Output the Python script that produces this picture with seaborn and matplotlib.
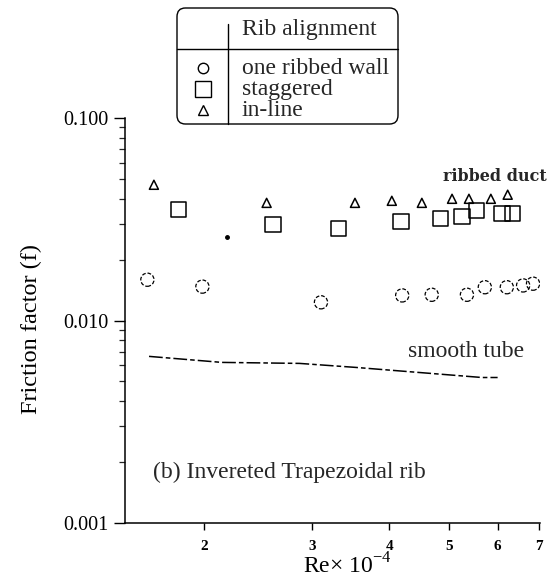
import matplotlib
matplotlib.use("Agg")
import matplotlib.pyplot as plt
import numpy as np
import pandas as pd
import seaborn as sns
from matplotlib.patches import FancyBboxPatch
from matplotlib.lines import Line2D
from matplotlib.ticker import FixedLocator, LogLocator, NullFormatter, FixedFormatter

# Reynolds number (x 10^-4) and friction factor for each rib arrangement
re_wall = [1.62, 1.99, 3.10, 4.20, 4.69, 5.35, 5.72, 6.21, 6.60, 6.85]
f_wall = [0.0159, 0.0147, 0.0123, 0.0133, 0.0134, 0.0134, 0.0146, 0.0146, 0.0149, 0.0152]

re_stag = [1.82, 2.59, 3.31, 4.18, 4.85, 5.25, 5.55, 6.10, 6.35]
f_stag = [0.0352, 0.0297, 0.0284, 0.0308, 0.0318, 0.0325, 0.0348, 0.0337, 0.0337]

re_inline = [1.66, 2.53, 3.52, 4.04, 4.52, 5.06, 5.39, 5.85, 6.23]
f_inline = [0.0468, 0.0381, 0.0381, 0.0390, 0.0381, 0.0399, 0.0399, 0.0399, 0.0418]

re_smooth = [1.63, 2.14, 2.86, 3.52, 4.24, 5.66, 6.00]
f_smooth = [0.00665, 0.00621, 0.00614, 0.00587, 0.00561, 0.00523, 0.00523]

re_dot = [2.18]
f_dot = [0.0257]

x_ticks = [2, 3, 4, 5, 6, 7]
x_ticklabels = ["2", "3", "4", "5", "6", "7"]
y_ticks = [0.001, 0.01, 0.1]
y_ticklabels = ["0.001", "0.010", "0.100"]
legend_labels = ["one ribbed wall", "staggered", "in-line"]

sns.set_theme(style="ticks")
plt.rcParams["font.family"] = ["Liberation Serif", "DejaVu Serif"]
plt.rcParams["mathtext.fontset"] = "custom"
plt.rcParams["mathtext.rm"] = "Liberation Serif"
plt.rcParams["axes.edgecolor"] = "black"
plt.rcParams["axes.linewidth"] = 1.1

W, H = 557, 582
fig = plt.figure(figsize=(W / 100, H / 100), dpi=100)
fig.patch.set_facecolor("white")
ax = fig.add_axes([125 / W, 1 - 523 / H, 415 / W, 405 / H])
ax.set_facecolor("white")
ax.set_xscale("log")
ax.set_yscale("log")

wall = pd.DataFrame({"Re": re_wall, "f": f_wall})
stag = pd.DataFrame({"Re": re_stag, "f": f_stag})
inline = pd.DataFrame({"Re": re_inline, "f": f_inline})
smooth = pd.DataFrame({"Re": re_smooth, "f": f_smooth})

sns.lineplot(data=smooth, x="Re", y="f", ax=ax, color="black", lw=1.1,
             linestyle=(0, (9, 2, 3, 2)), sort=False, estimator=None)
sns.scatterplot(data=wall, x="Re", y="f", ax=ax, marker="o", s=9.5 ** 2,
                facecolors="none", edgecolor="black", linewidth=0.9,
                linestyle=(0, (3, 1.5)))
sns.scatterplot(data=stag, x="Re", y="f", ax=ax, marker="s", s=11 ** 2,
                facecolors="none", edgecolor="black", linewidth=1.1)
sns.scatterplot(data=inline, x="Re", y="f", ax=ax, marker="^", s=6.5 ** 2,
                facecolors="none", edgecolor="black", linewidth=1.1)
ax.plot(re_dot, f_dot, "o", color="black", ms=2.5)

ax.set_xlim(1.49, 7.03)
ax.set_ylim(0.001, 0.1)
sns.despine(ax=ax)

ax.xaxis.set_major_locator(FixedLocator(x_ticks))
ax.xaxis.set_major_formatter(FixedFormatter(x_ticklabels))
ax.xaxis.set_minor_locator(FixedLocator([]))
ax.tick_params(axis="x", which="major", direction="out", length=5, width=1,
               pad=7, labelsize=11, colors="black")
for lab in ax.get_xticklabels():
    lab.set_fontweight("bold")

ax.yaxis.set_major_locator(FixedLocator(y_ticks))
ax.yaxis.set_major_formatter(FixedFormatter(y_ticklabels))
ax.yaxis.set_minor_locator(LogLocator(base=10, subs=np.arange(2, 10)))
ax.yaxis.set_minor_formatter(NullFormatter())
ax.tick_params(axis="y", which="major", direction="out", length=8, width=1,
               pad=4, labelsize=14.5, colors="black")
ax.tick_params(axis="y", which="minor", direction="out", length=4, width=0.9)

ax.set_xlabel("Re× 10$^{-4}$", fontsize=17, color="black")
ax.xaxis.set_label_coords(0.535, -0.105)
ax.xaxis.label.set_va("center")
ax.set_ylabel("Friction factor (f)", fontsize=17.5, color="black")
ax.yaxis.set_label_coords(-0.225, 0.48)
ax.yaxis.label.set_va("center")

ax.text(5.94, 0.0512, "ribbed duct", fontsize=11.5, fontweight="bold",
        family=["DejaVu Serif"], ha="center", va="center")
ax.text(5.33, 0.00704, "smooth tube", fontsize=17, ha="center", va="center")
ax.text(1.653, 0.00178, "(b) Invereted Trapezoidal rib", fontsize=17,
        ha="left", va="center")

# Legend table drawn in figure pixel space
def fx(px):
    return px / W

def fy(py):
    return 1 - py / H

box = FancyBboxPatch((fx(177), fy(124)), fx(398) - fx(177), fy(8) - fy(124),
                     boxstyle="round,pad=0,rounding_size=0.015",
                     transform=fig.transFigure, fill=False, ec="black", lw=1.0)
fig.patches.append(box)
fig.add_artist(Line2D([fx(177), fx(398)], [fy(49), fy(49)], color="black",
                      lw=1.0, transform=fig.transFigure))
fig.add_artist(Line2D([fx(228), fx(228)], [fy(24), fy(124)], color="black",
                      lw=1.0, transform=fig.transFigure))
fig.text(fx(242), fy(30), "Rib alignment", fontsize=17, ha="left", va="center")

rows = [68, 89, 110]
markers = [("o", 7.5, (0, (3, 1.5))), ("s", 11, "-"), ("^", 7.5, "-")]
for (m, ms, ls), row, lab in zip(markers, rows, legend_labels):
    fig.add_artist(Line2D([fx(203)], [fy(row)], marker=m, ms=ms, mfc="none",
                          mec="black", mew=1.0, linestyle="none",
                          transform=fig.transFigure))
    fig.text(fx(242), fy(row), lab, fontsize=17, ha="left", va="center")

fig.savefig("out.png", dpi=100, facecolor="white")
